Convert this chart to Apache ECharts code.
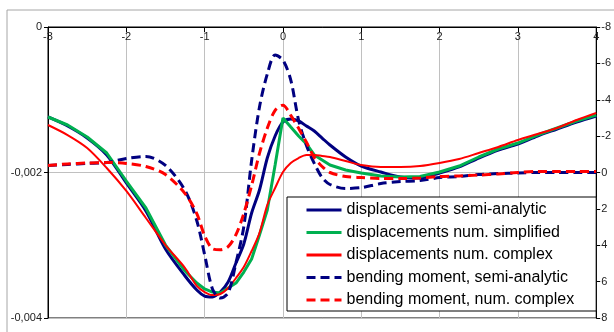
<!DOCTYPE html>
<html>
<head>
<meta charset="utf-8">
<script src="https://cdn.jsdelivr.net/npm/echarts@6/dist/echarts.min.js"></script>
<style>
  html, body { margin: 0; padding: 0; background: #fff; }
  #chart { width: 614px; height: 332px; }
</style>
</head>
<body>
<div id="chart"></div>
<script>
// Shared x positions (distance), denser around the load where the curves bend hard.
const xs = [-3, -2.75, -2.5, -2.25, -2, -1.75, -1.5, -1.25, -1.1, -1, -0.9, -0.8, -0.7, -0.6,
  -0.5, -0.4, -0.3, -0.2, -0.1, 0, 0.1, 0.2, 0.3, 0.4, 0.5, 0.6, 0.8, 1, 1.25, 1.5, 1.75, 2,
  2.25, 2.5, 2.75, 3, 3.25, 3.5, 3.75, 4];

// Displacements, left axis
const dispSemiAnalytic = [-0.001237, -0.001361, -0.001526, -0.001759, -0.002144, -0.002529,
  -0.003052, -0.003423, -0.003615, -0.003698, -0.003711, -0.003643, -0.003505, -0.003244,
  -0.002983, -0.002557, -0.002241, -0.001801, -0.001498, -0.001306, -0.001265, -0.001292,
  -0.001361, -0.00143, -0.001526, -0.001622, -0.001787, -0.001911, -0.001993, -0.002062,
  -0.002076, -0.002007, -0.001924, -0.001801, -0.001691, -0.001608, -0.001498, -0.001402,
  -0.001306, -0.001223];
const dispNumSimplified = [-0.001237, -0.001347, -0.001512, -0.001732, -0.002117, -0.002488,
  -0.002997, -0.003354, -0.003519, -0.003601, -0.003643, -0.003656, -0.003588, -0.003519,
  -0.003368, -0.003189, -0.002859, -0.002515, -0.001897, -0.001251, -0.001375, -0.001498,
  -0.001608, -0.001759, -0.001828, -0.001897, -0.001966, -0.002007, -0.002048, -0.002062,
  -0.002055, -0.001993, -0.001911, -0.001787, -0.001677, -0.001595, -0.001485, -0.001388,
  -0.001292, -0.00121];
const dispNumComplex = [-0.001347, -0.001485, -0.001663, -0.001938, -0.002254, -0.002625,
  -0.002997, -0.003313, -0.00356, -0.003643, -0.003684, -0.00367, -0.003588, -0.00345,
  -0.003299, -0.003079, -0.002832, -0.002447, -0.002213, -0.001993, -0.001869, -0.001801,
  -0.001759, -0.001759, -0.001773, -0.001787, -0.001842, -0.001897, -0.001924, -0.001924,
  -0.001911, -0.001869, -0.001814, -0.001732, -0.001649, -0.001553, -0.001471, -0.001388,
  -0.001278, -0.001182];

// Bending moments, right axis (inverted)
const momentSemiAnalytic = [-0.39, -0.44, -0.5, -0.55, -0.77, -0.88, -0.39, 0.99, 2.65, 4.52,
  6.4, 6.9, 6.62, 4.97, 2.98, -0.66, -3.59, -5.41, -6.46, -6.18, -5.08, -2.87, -1.49, -0.5,
  0.28, 0.66, 0.88, 0.83, 0.61, 0.5, 0.44, 0.28, 0.22, 0.11, 0.06, 0.03, 0, 0, 0, 0];
const momentNumComplex = [-0.39, -0.47, -0.52, -0.55, -0.5, -0.33, 0.11, 1.16, 2.26, 3.48,
  4.19, 4.25, 4.08, 3.42, 2.26, 0.72, -1.05, -2.43, -3.42, -3.7, -3.14, -2.43, -1.66, -0.83,
  -0.33, 0, 0.22, 0.28, 0.33, 0.33, 0.3, 0.22, 0.19, 0.14, 0.08, 0, -0.06, -0.06, -0.06, -0.06];

const NAVY = '#000080';
const GREEN = '#00b050';
const RED = '#ff0000';
const FONT = 'Liberation Sans, Arial, sans-serif';

const pairs = (ys) => xs.map((x, i) => [x, ys[i]]);

function line(name, ys, color, width, yAxisIndex, dashed, smooth) {
  return {
    name,
    type: 'line',
    yAxisIndex,
    data: pairs(ys),
    symbol: 'none',
    smooth,
    clip: true,
    lineStyle: { color, width, type: dashed ? [9, 5] : 'solid', cap: 'butt' },
    itemStyle: { color },
  };
}

const chart = echarts.init(document.getElementById('chart'), null, { renderer: 'canvas' });
chart.setOption({
  animation: false,
  textStyle: { fontFamily: FONT },
  graphic: [{
    type: 'rect',
    shape: { x: 7, y: 10, width: 700, height: 400 },
    style: { fill: 'none', stroke: '#a6a6a6', lineWidth: 1 },
    silent: true,
    z: -10,
  }],
  grid: {
    left: 48, right: 16, top: 27, bottom: 14,
    show: true, borderColor: '#000', borderWidth: 1, backgroundColor: 'transparent',
  },
  xAxis: {
    type: 'value',
    position: 'top',
    min: -3, max: 4, interval: 1,
    axisLine: { show: true, onZero: false, lineStyle: { color: '#000' } },
    axisTick: { show: true, inside: true, length: 5, lineStyle: { color: '#000' } },
    axisLabel: { inside: true, margin: 4, fontSize: 11, color: '#222', fontFamily: FONT },
    splitLine: { show: true, lineStyle: { color: '#c0c0c0', width: 1 } },
  },
  yAxis: [{
    type: 'value',
    min: -0.004, max: 0, interval: 0.002,
    axisLine: { show: true, onZero: false, lineStyle: { color: '#000' } },
    axisTick: { show: true, length: 4, lineStyle: { color: '#000' } },
    axisLabel: {
      fontSize: 11, color: '#222', margin: 6, fontFamily: FONT,
      formatter: (v) => (v === 0 ? '0' : v.toFixed(3).replace('.', ',')),
    },
    splitLine: { show: true, lineStyle: { color: '#c0c0c0', width: 1 } },
  }, {
    type: 'value',
    position: 'right',
    inverse: true,
    min: -8, max: 8, interval: 2,
    axisLine: { show: true, onZero: false, lineStyle: { color: '#000' } },
    axisTick: { show: true, length: 4, lineStyle: { color: '#000' } },
    axisLabel: { fontSize: 11, color: '#222', margin: 5, fontFamily: FONT },
    splitLine: { show: false },
  }],
  legend: {
    orient: 'vertical',
    left: 287, top: 197,
    padding: [5, 22, 3, 18],
    itemGap: 6.5,
    itemWidth: 35,
    itemHeight: 16,
    backgroundColor: '#fff',
    borderColor: '#000',
    borderWidth: 1,
    borderRadius: 0,
    itemStyle: { opacity: 0 },
    lineStyle: { width: 3 },
    textStyle: { fontSize: 16, color: '#000', fontFamily: FONT },
    z: 10,
  },
  series: [
    line('displacements semi-analytic', dispSemiAnalytic, NAVY, 3, 0, false, 0.3),
    line('displacements num. simplified', dispNumSimplified, GREEN, 3, 0, false, false),
    line('displacements num. complex', dispNumComplex, RED, 2, 0, false, 0.3),
    line('bending moment, semi-analytic', momentSemiAnalytic, NAVY, 3, 1, true, 0.3),
    line('bending moment, num. complex', momentNumComplex, RED, 3, 1, true, 0.3),
  ],
});
</script>
</body>
</html>
